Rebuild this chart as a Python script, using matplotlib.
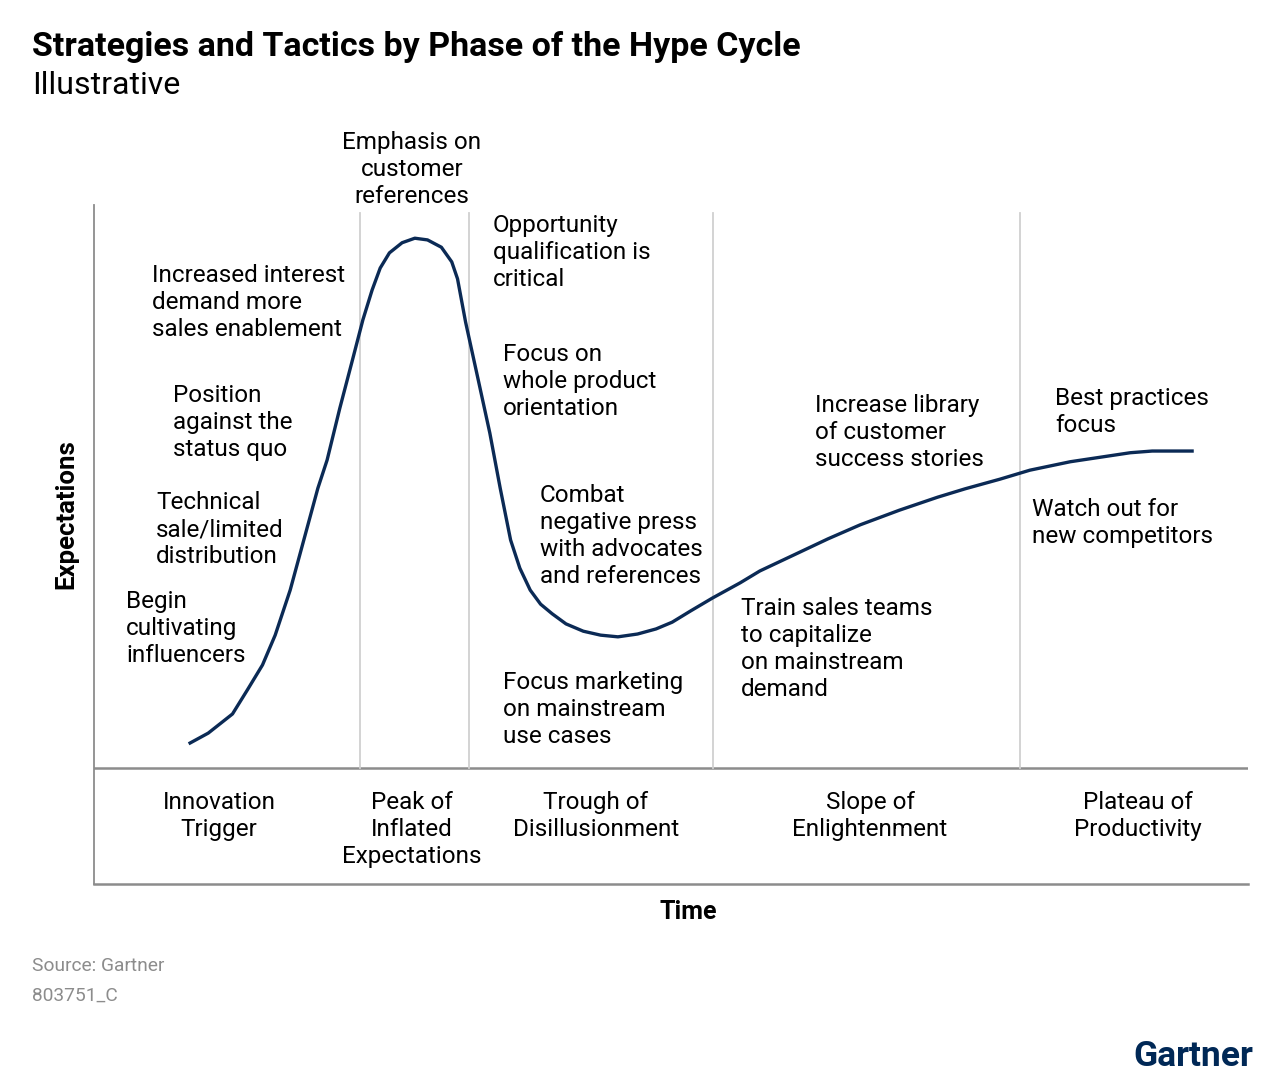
import matplotlib
matplotlib.use("Agg")
import matplotlib.pyplot as plt

# -----------------------------
# Data
# -----------------------------
time = [8.2, 9.9, 12.0, 13.3, 14.6, 15.7, 17.0, 18.3, 19.4, 20.2, 21.3, 22.4,
        23.3, 24.1, 24.8, 25.6, 26.7, 27.8, 28.9, 30.1, 31.0, 31.5, 32.2, 33.3,
        34.3, 35.2, 36.1, 36.9, 37.8, 38.7, 39.7, 40.9, 42.4, 43.9, 45.4, 47.1,
        48.7, 50.1, 51.7, 53.6, 56.0, 57.7, 60.6, 63.6, 66.4, 69.8, 73.1, 75.5,
        78.5, 81.1, 84.6, 87.2, 89.8, 91.7, 95.3]
expectations = [4.3, 6.2, 9.6, 13.9, 18.3, 23.6, 31.6, 41.4, 49.7, 54.7, 63.9, 72.5,
                79.6, 84.9, 88.8, 91.5, 93.3, 94.1, 93.8, 92.5, 89.9, 86.9, 79.2, 68.9,
                59.5, 49.7, 40.5, 35.5, 31.6, 29.1, 27.4, 25.6, 24.3, 23.6, 23.3, 23.8,
                24.7, 25.9, 27.9, 30.2, 32.9, 35.0, 37.8, 40.7, 43.2, 45.8, 48.1, 49.6,
                51.3, 52.9, 54.4, 55.2, 56.0, 56.3, 56.3]

phase_bounds = [23.05, 32.5, 53.64, 80.24]

phases = ["Innovation\nTrigger", "Peak of\nInflated\nExpectations",
          "Trough of\nDisillusionment", "Slope of\nEnlightenment",
          "Plateau of\nProductivity"]

tactics = [
    "Emphasis on\ncustomer\nreferences",
    "Opportunity\nqualification is\ncritical",
    "Increased interest\ndemand more\nsales enablement",
    "Focus on\nwhole product\norientation",
    "Position\nagainst the\nstatus quo",
    "Technical\nsale/limited\ndistribution",
    "Combat\nnegative press\nwith advocates\nand references",
    "Begin\ncultivating\ninfluencers",
    "Focus marketing\non mainstream\nuse cases",
    "Increase library\nof customer\nsuccess stories",
    "Train sales teams\nto capitalize\non mainstream\ndemand",
    "Best practices\nfocus",
    "Watch out for\nnew competitors",
]

# -----------------------------
# Figure
# -----------------------------
W, H = 1280, 1083
fig = plt.figure(figsize=(12.8, 10.83), dpi=100)
plt.rcParams['font.family'] = ['Roboto', 'DejaVu Sans']

def px(x, y):
    return x / W, 1 - y / H

ax = fig.add_axes([94 / W, 1 - 884 / H, (1248 - 94) / W, (884 - 205) / H])
ax.set_xlim(0, 100)
ax.set_ylim(-20.6, 100)
ax.set_xticks([])
ax.set_yticks([])
for s in ["top", "right"]:
    ax.spines[s].set_visible(False)
ax.spines["left"].set_color("#8c8c8c")
ax.spines["bottom"].set_color("#8c8c8c")
ax.spines["left"].set_linewidth(1.3)
ax.spines["bottom"].set_linewidth(1.8)

ax.axhline(0, color="#8c8c8c", lw=1.8)
for b in phase_bounds:
    ax.plot([b, b], [0, 98.6], color="#d0d0d0", lw=1.3)

ax.plot(time, expectations, color="#0b2a55", lw=2.4, solid_capstyle="butt")

# phase labels under the curve
fs = 17.5
ls = 1.23
phase_x = [219, 412, 596, 870, 1138]
for lab, x in zip(phases, phase_x):
    fig.text(*px(x, 791), lab, ha="center", va="top", fontsize=fs,
             linespacing=ls)

# tactic notes
spots = [(412, 131, "center"), (493, 214, "left"), (152, 264, "left"),
         (503, 343, "left"), (173, 384, "left"), (156, 491, "left"),
         (540, 484, "left"), (126, 590, "left"), (503, 671, "left"),
         (815, 394, "left"), (741, 597, "left"), (1055, 387, "left"),
         (1032, 498, "left")]
for txt, (x, y, ha) in zip(tactics, spots):
    fig.text(*px(x, y), txt, ha=ha, va="top", fontsize=fs, linespacing=ls)

# axis titles
fig.text(*px(688, 912), "Time", ha="center", va="center", fontsize=18,
         fontweight="bold")
fig.text(*px(66, 514), "Expectations", ha="center", va="center", fontsize=18.5,
         fontweight="bold", rotation=90)

# header / footer
fig.text(*px(32, 47), "Strategies and Tactics by Phase of the Hype Cycle",
         ha="left", va="center", fontsize=24.5, fontweight="bold")
fig.text(*px(32, 86), "Illustrative", ha="left", va="center", fontsize=23)
fig.text(*px(32, 966), "Source: Gartner", ha="left", va="center",
         fontsize=13.8, color="#8c8c8c")
fig.text(*px(32, 996), "803751_C", ha="left", va="center",
         fontsize=13.8, color="#8c8c8c")
fig.text(*px(1253, 1057), "Gartner", ha="right", va="center", fontsize=25.5,
         fontweight="bold", color="#002856")

fig.savefig("out.png", dpi=100)
